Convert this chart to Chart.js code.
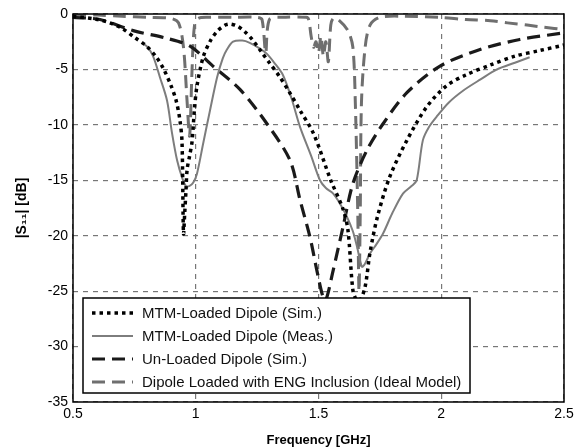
<!DOCTYPE html>
<html>
<head>
<meta charset="utf-8">
<script src="https://cdn.jsdelivr.net/npm/chart.js@4.4.0/dist/chart.umd.min.js"></script>
<style>
  html, body { margin: 0; padding: 0; background: #fff; }
  #wrap { width: 587px; height: 448px; position: relative; }
</style>
</head>
<body>
<div id="wrap"><canvas id="s11"></canvas></div>
<script>
// MTM-Loaded Dipole (Sim.)
var fMtmSim = [0.5, 0.6, 0.65, 0.7, 0.75, 0.8, 0.84, 0.87, 0.9, 0.92, 0.935, 0.944, 0.95, 0.955, 0.96, 0.965, 0.975, 0.985, 0.995, 1.005, 1.03, 1.06, 1.09, 1.12, 1.14, 1.17, 1.2, 1.23, 1.27, 1.3, 1.34, 1.38, 1.425, 1.48, 1.55, 1.6, 1.62, 1.64, 1.655, 1.67, 1.69, 1.71, 1.74, 1.79, 1.86, 1.94, 2.02, 2.1, 2.2, 2.3, 2.4, 2.5];
var sMtmSim = [-0.2, -0.5, -0.8, -1.3, -2.1, -2.9, -3.9, -5.0, -6.5, -7.8, -9.5, -11.5, -19.8, -18.0, -16.0, -14.0, -12.8, -11.5, -8.5, -6.5, -3.9, -2.4, -1.5, -1.0, -0.9, -1.1, -1.6, -2.3, -3.5, -4.4, -5.6, -7.0, -8.7, -10.8, -15.0, -17.6, -19.5, -24.9, -25.8, -25.8, -24.6, -21.5, -18.3, -14.7, -11.4, -8.4, -6.5, -5.5, -4.6, -3.8, -3.3, -2.8];

// MTM-Loaded Dipole (Meas.)
var fMtmMeas = [0.78, 0.8, 0.826, 0.854, 0.883, 0.903, 0.924, 0.945, 0.96, 0.975, 0.99, 1.005, 1.03, 1.058, 1.087, 1.11, 1.127, 1.152, 1.19, 1.22, 1.26, 1.29, 1.32, 1.355, 1.39, 1.425, 1.47, 1.506, 1.53, 1.56, 1.59, 1.616, 1.64, 1.657, 1.677, 1.69, 1.71, 1.735, 1.763, 1.8, 1.844, 1.88, 1.9, 1.925, 1.95, 1.98, 2.03, 2.09, 2.16, 2.227, 2.3, 2.36];
var sMtmMeas = [-2.6, -2.9, -3.8, -5.7, -7.8, -10.7, -13.2, -14.8, -15.5, -15.5, -15.2, -14.4, -11.7, -8.7, -5.7, -4.0, -3.2, -2.5, -2.4, -2.6, -3.1, -3.6, -4.4, -5.5, -7.6, -10.2, -12.8, -15.0, -15.7, -16.2, -17.2, -18.3, -19.6, -21.0, -22.8, -22.5, -21.6, -20.8, -19.8, -18.0, -16.2, -15.5, -15.0, -11.4, -10.2, -9.3, -8.0, -6.9, -5.9, -5.0, -4.4, -3.9];

// Un-Loaded Dipole (Sim.)
var fUnloaded = [0.5, 0.61, 0.745, 0.883, 0.977, 1.07, 1.18, 1.29, 1.384, 1.425, 1.465, 1.495, 1.518, 1.53, 1.56, 1.6, 1.64, 1.697, 1.763, 1.86, 1.995, 2.158, 2.32, 2.5];
var sUnloaded = [-0.3, -0.5, -1.5, -2.2, -2.9, -4.7, -6.8, -9.9, -13.2, -16.8, -20.1, -23.3, -25.5, -25.8, -23.1, -19.2, -15.3, -12.3, -9.9, -7.1, -4.7, -3.2, -2.3, -1.7];

// Dipole Loaded with ENG Inclusion (Ideal Model)
var fEng = [0.5, 0.6, 0.7, 0.8, 0.9, 0.93, 0.95, 0.965, 0.975, 0.985, 0.995, 1.01, 1.05, 1.15, 1.25, 1.27, 1.285, 1.3, 1.35, 1.45, 1.46, 1.47, 1.48, 1.49, 1.5, 1.51, 1.52, 1.53, 1.54, 1.55, 1.56, 1.58, 1.62, 1.64, 1.65, 1.66, 1.665, 1.67, 1.675, 1.69, 1.71, 1.75, 1.85, 1.995, 2.1, 2.2, 2.27, 2.35, 2.42, 2.5];
var sEng = [-0.1, -0.1, -0.2, -0.3, -0.4, -0.8, -3.0, -8.0, -11.0, -5.0, -1.0, -0.4, -0.3, -0.3, -0.3, -0.5, -3.5, -0.5, -0.3, -0.3, -0.5, -2.0, -3.0, -2.5, -3.5, -2.0, -3.8, -2.5, -4.3, -1.0, -0.4, -0.5, -1.5, -3.0, -8.0, -18.0, -25.0, -18.0, -8.0, -3.0, -1.0, -0.3, -0.2, -0.3, -0.5, -0.6, -0.8, -1.0, -1.2, -1.4];

var seriesLabels = ['MTM-Loaded Dipole (Sim.)', 'MTM-Loaded Dipole (Meas.)', 'Un-Loaded Dipole (Sim.)', 'Dipole Loaded with ENG Inclusion (Ideal Model)'];
var xTicks = [0.5, 1, 1.5, 2, 2.5];
var yTicks = [0, -5, -10, -15, -20, -25, -30, -35];

function pts(xs, ys) {
  return xs.map(function (x, i) { return { x: x, y: ys[i] }; });
}

var font = 'Liberation Sans, Arial, sans-serif';

// frame + legend drawn on top of plot
var frameAndLegend = {
  id: 'frameAndLegend',
  afterDraw: function (chart) {
    var c = chart.ctx, a = chart.chartArea;
    c.save();
    c.setLineDash([]);
    c.strokeStyle = '#000';
    c.lineWidth = 1.5;
    c.strokeRect(a.left, a.top, a.right - a.left, a.bottom - a.top);

    var bx = a.left + 10, by = a.top + 284, bw = 387, bh = 95;
    c.fillStyle = '#fff';
    c.fillRect(bx, by, bw, bh);
    c.strokeRect(bx, by, bw, bh);

    c.font = '15px ' + font;
    c.textBaseline = 'middle';
    chart.data.datasets.forEach(function (ds, i) {
      var yy = by + 15 + i * 23;
      c.beginPath();
      c.strokeStyle = ds.borderColor;
      c.lineWidth = ds.borderWidth;
      c.setLineDash(ds.borderDash || []);
      c.moveTo(bx + 9, yy);
      c.lineTo(bx + 50, yy);
      c.stroke();
      c.setLineDash([]);
      c.fillStyle = '#111';
      c.fillText(ds.label, bx + 59, yy + 1);
    });
    c.restore();
  }
};

new Chart(document.getElementById('s11'), {
  type: 'line',
  data: {
    datasets: [
      {
        label: seriesLabels[0],
        data: pts(fMtmSim, sMtmSim),
        borderColor: '#000',
        borderWidth: 3.5,
        borderDash: [3.5, 4],
        order: 1
      },
      {
        label: seriesLabels[1],
        data: pts(fMtmMeas, sMtmMeas),
        borderColor: '#7d7d7d',
        borderWidth: 2,
        order: 2
      },
      {
        label: seriesLabels[2],
        data: pts(fUnloaded, sUnloaded),
        borderColor: '#1a1a1a',
        borderWidth: 3.2,
        borderDash: [13, 7],
        order: 3
      },
      {
        label: seriesLabels[3],
        data: pts(fEng, sEng),
        borderColor: '#6f6f6f',
        borderWidth: 3,
        borderDash: [13, 7],
        order: 4
      }
    ]
  },
  options: {
    responsive: true,
    maintainAspectRatio: false,
    animation: false,
    layout: { padding: { top: 14, right: 23, left: 14, bottom: 0 } },
    elements: {
      point: { radius: 0 },
      line: { tension: 0.3, borderCapStyle: 'butt', fill: false }
    },
    plugins: {
      legend: { display: false },
      tooltip: { enabled: false }
    },
    scales: {
      x: {
        type: 'linear',
        min: 0.5,
        max: 2.5,
        afterBuildTicks: function (s) { s.ticks = xTicks.map(function (v) { return { value: v }; }); },
        afterFit: function (s) { s.height = 46; },
        ticks: {
          color: '#000', font: { family: font, size: 14 }, padding: 4,
          callback: function (v) { return String(v); }
        },
        grid: { color: '#777', lineWidth: 1.2, drawTicks: false },
        border: { display: false, dash: [5, 5] },
        title: { display: true, text: 'Frequency [GHz]', color: '#000', font: { family: font, size: 13, weight: 'bold' }, padding: { top: 2, bottom: 0 } }
      },
      y: {
        min: -35,
        max: 0,
        afterBuildTicks: function (s) { s.ticks = yTicks.map(function (v) { return { value: v }; }); },
        afterFit: function (s) { s.width = 59; },
        ticks: { color: '#000', font: { family: font, size: 14 }, padding: 5 },
        grid: { color: '#777', lineWidth: 1.2, drawTicks: false },
        border: { display: false, dash: [5, 5] },
        title: { display: true, text: '|S\u2081\u2081| [dB]', color: '#000', font: { family: font, size: 14, weight: 'bold' }, padding: { top: 0, bottom: 4 } }
      }
    }
  },
  plugins: [frameAndLegend]
});
</script>
</body>
</html>
